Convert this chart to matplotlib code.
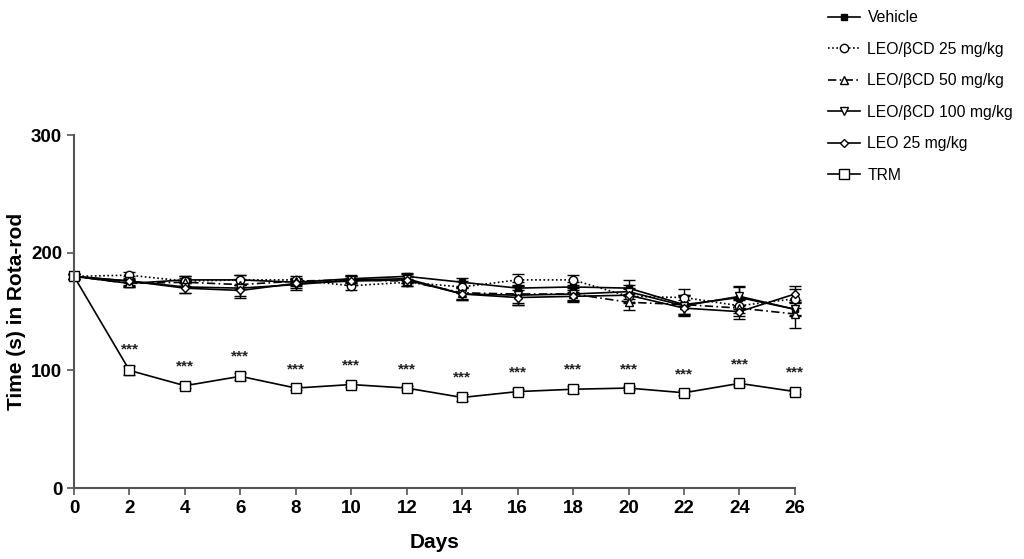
import matplotlib.pyplot as plt
from matplotlib.lines import Line2D

plt.rcParams['font.family'] = ['Liberation Sans', 'DejaVu Sans']

# sampling days
days = [0, 2, 4, 6, 8, 10, 12, 14, 16, 18, 20, 22, 24, 26]

# mean time on the rota-rod (s) for each group
vehicle = [180, 174, 177, 177, 175, 178, 180, 175, 170, 171, 170, 156, 162, 152]
leo_bcd_25 = [180, 181, 176, 177, 177, 172, 175, 171, 177, 177, 163, 162, 155, 161]
leo_bcd_50 = [180, 174, 175, 173, 176, 177, 176, 166, 165, 165, 158, 156, 153, 148]
leo_bcd_100 = [180, 176, 171, 170, 173, 177, 178, 165, 164, 165, 167, 155, 163, 152]
leo_25 = [180, 176, 170, 168, 174, 176, 177, 165, 162, 163, 164, 153, 150, 165]
trm = [180, 100, 87, 95, 85, 88, 85, 77, 82, 84, 85, 81, 89, 82]

# standard errors
vehicle_err = [2, 3, 3, 4, 3, 3, 3, 4, 5, 4, 7, 8, 10, 5]
leo_bcd_25_err = [2, 3, 4, 4, 3, 4, 3, 5, 5, 4, 6, 7, 6, 8]
leo_bcd_50_err = [2, 3, 4, 4, 3, 3, 4, 5, 8, 6, 7, 8, 7, 12]
leo_bcd_100_err = [2, 4, 5, 8, 5, 3, 4, 5, 8, 5, 6, 8, 8, 6]
leo_25_err = [2, 3, 4, 5, 4, 3, 3, 5, 6, 5, 6, 7, 6, 7]
trm_err = [2, 4, 2, 3, 2, 2, 2, 3, 2, 3, 2, 2, 2, 2]

labels = ['Vehicle', 'LEO/\u03b2CD 25 mg/kg', 'LEO/\u03b2CD 50 mg/kg',
          'LEO/\u03b2CD 100 mg/kg', 'LEO 25 mg/kg', 'TRM']

series = [vehicle, leo_bcd_25, leo_bcd_50, leo_bcd_100, leo_25, trm]
errors = [vehicle_err, leo_bcd_25_err, leo_bcd_50_err, leo_bcd_100_err, leo_25_err, trm_err]
styles = [
    dict(marker='s', ls='-', mfc='black', ms=4.5),
    dict(marker='o', ls=(0, (1, 1.5)), mfc='white', ms=6),
    dict(marker='^', ls=(0, (5, 2, 1, 2)), mfc='white', ms=6),
    dict(marker='v', ls='-', mfc='white', ms=6),
    dict(marker='D', ls='-', mfc='white', ms=4.5),
    dict(marker='s', ls='-', mfc='white', ms=7),
]

fig = plt.figure(figsize=(10.24, 5.59), dpi=100)
ax = fig.add_axes([0.0723, 0.127, 0.704, 0.631])

handles = []
for y, e, lab, st in zip(series, errors, labels, styles):
    ax.errorbar(days, y, yerr=e, color='black', mec='black', lw=1.2,
                elinewidth=1.0, capsize=4, capthick=1.0, clip_on=False, **st)
    handles.append(Line2D([], [], color='black', mec='black', lw=1.2, **st))

# significance marks over the TRM group
for d, v, e in zip(days[1:], trm[1:], trm_err[1:]):
    ax.text(d, v + e + 8, '***', ha='center', va='bottom', fontsize=11,
            fontweight='bold', color='#222222')

ax.set_xlim(0, 26)
ax.set_ylim(0, 300)
ax.set_xticks(days)
ax.set_yticks([0, 100, 200, 300])
ax.spines['top'].set_visible(False)
ax.spines['right'].set_visible(False)
for side in ['left', 'bottom']:
    ax.spines[side].set_color('#555555')
    ax.spines[side].set_linewidth(1.5)
ax.tick_params(direction='out', length=5, width=1.2, color='#555555', labelsize=13.5)
for t in ax.get_xticklabels() + ax.get_yticklabels():
    t.set_fontweight('bold')

ax.set_xlabel('Days', fontsize=15, fontweight='bold', labelpad=12)
ax.set_ylabel('Time (s) in Rota-rod', fontsize=15, fontweight='bold', labelpad=4)

fig.legend(handles=handles, labels=labels, loc='upper left', bbox_to_anchor=(0.795, 1.007),
           frameon=False, fontsize=11.3, handlelength=2.0, labelspacing=1.05,
           handletextpad=0.5)

plt.savefig('out.png', dpi=100)
